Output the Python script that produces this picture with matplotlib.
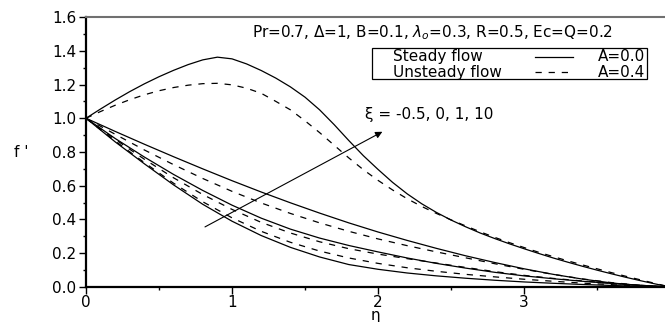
import matplotlib
matplotlib.use("Agg")
import matplotlib.pyplot as plt
from matplotlib.patches import Rectangle

plt.rcParams['font.family'] = ['DejaVu Sans']
plt.rcParams['mathtext.fontset'] = 'dejavusans'

# velocity profiles f'(eta) for xi = -0.5, 0, 1, 10
eta = [0.0, 0.2, 0.4, 0.6, 0.8, 1.0, 1.2, 1.4, 1.6, 1.8, 2.0,
       2.2, 2.4, 2.6, 2.8, 3.0, 3.2, 3.4, 3.6, 3.8, 4.0]
# finer grid for the overshooting xi=10 profiles
eta_fine = [0.0, 0.1, 0.2, 0.3, 0.4, 0.5, 0.6, 0.7, 0.8, 0.9, 1.0,
            1.1, 1.2, 1.3, 1.4, 1.5, 1.6, 1.7, 1.8, 1.9, 2.0,
            2.1, 2.2, 2.3, 2.4, 2.5, 2.6, 2.7, 2.8, 2.9, 3.0,
            3.1, 3.2, 3.3, 3.4, 3.5, 3.6, 3.7, 3.8, 3.9, 4.0]

# steady flow, A=0.0
steady_xi_m05 = [1.0, 0.86, 0.73, 0.605, 0.49, 0.39, 0.305, 0.235, 0.178, 0.133, 0.105,
                 0.083, 0.066, 0.052, 0.04, 0.03, 0.022, 0.015, 0.009, 0.004, 0.0]
steady_xi_0 = [1.0, 0.88, 0.77, 0.667, 0.572, 0.485, 0.408, 0.343, 0.29, 0.246, 0.208,
               0.172, 0.14, 0.112, 0.087, 0.066, 0.049, 0.034, 0.021, 0.01, 0.0]
steady_xi_1 = [1.0, 0.922, 0.846, 0.772, 0.70, 0.63, 0.563, 0.499, 0.438, 0.38, 0.326,
               0.276, 0.229, 0.185, 0.145, 0.108, 0.075, 0.047, 0.024, 0.008, 0.0]
steady_xi_10 = [1.0, 1.055, 1.108, 1.158, 1.204, 1.246, 1.284, 1.318, 1.346, 1.362, 1.352,
                1.322, 1.283, 1.238, 1.186, 1.125, 1.05, 0.962, 0.868, 0.778, 0.697,
                0.62, 0.552, 0.493, 0.442, 0.397, 0.357, 0.32, 0.287, 0.256, 0.227,
                0.199, 0.172, 0.147, 0.123, 0.10, 0.078, 0.057, 0.037, 0.018, 0.0]

# unsteady flow, A=0.4
unsteady_xi_m05 = [1.0, 0.865, 0.737, 0.615, 0.505, 0.41, 0.33, 0.265, 0.213, 0.172, 0.14,
                   0.114, 0.093, 0.075, 0.06, 0.046, 0.034, 0.023, 0.014, 0.006, 0.0]
unsteady_xi_0 = [1.0, 0.875, 0.757, 0.647, 0.548, 0.46, 0.383, 0.32, 0.268, 0.227, 0.195,
                 0.168, 0.142, 0.116, 0.091, 0.069, 0.051, 0.036, 0.022, 0.01, 0.0]
unsteady_xi_1 = [1.0, 0.905, 0.812, 0.725, 0.643, 0.567, 0.498, 0.436, 0.38, 0.33, 0.285,
                 0.245, 0.208, 0.173, 0.138, 0.105, 0.075, 0.048, 0.026, 0.01, 0.0]
unsteady_xi_10 = [1.0, 1.04, 1.077, 1.11, 1.139, 1.163, 1.182, 1.196, 1.205, 1.207, 1.198,
                  1.178, 1.148, 1.10, 1.05, 0.985, 0.915, 0.84, 0.765, 0.695, 0.632,
                  0.575, 0.523, 0.477, 0.436, 0.398, 0.362, 0.327, 0.294, 0.263, 0.234,
                  0.206, 0.18, 0.155, 0.131, 0.108, 0.085, 0.063, 0.042, 0.021, 0.0]

steady = [(eta, steady_xi_m05), (eta, steady_xi_0), (eta, steady_xi_1), (eta_fine, steady_xi_10)]
unsteady = [(eta, unsteady_xi_m05), (eta, unsteady_xi_0), (eta, unsteady_xi_1),
            (eta_fine, unsteady_xi_10)]

params_text = "Pr=0.7, \u0394=1, B=0.1, $\\lambda_o$=0.3, R=0.5, Ec=Q=0.2"
xi_text = "\u03be = -0.5, 0, 1, 10"

fs = 11
dash = (0, (5, 5.5))

fig = plt.figure(figsize=(6.65, 3.22), dpi=100)
# axes run a little past the right edge of the figure
ax = fig.add_axes([0.1293, 0.1087, 0.8782, 0.8385])

for x, f in steady:
    ax.plot(x, f, color='k', lw=0.9)
for x, f in unsteady:
    ax.plot(x, f, color='k', lw=0.9, linestyle=dash)

ax.set_xlim(0, 4)
ax.set_ylim(0, 1.6)
ax.set_xticks([0, 1, 2, 3, 4])
ax.set_xticks([0.5, 1.5, 2.5, 3.5], minor=True)
ax.set_yticks([0.0, 0.2, 0.4, 0.6, 0.8, 1.0, 1.2, 1.4, 1.6])
ax.set_yticks([0.1, 0.3, 0.5, 0.7, 0.9, 1.1, 1.3, 1.5], minor=True)
ax.set_yticklabels(["0.0", "0.2", "0.4", "0.6", "0.8", "1.0", "1.2", "1.4", "1.6"])
ax.tick_params(which='major', direction='out', length=5, width=1.0, labelsize=fs, pad=2)
ax.tick_params(axis='x', which='major', pad=1)
ax.tick_params(which='minor', direction='out', length=2.5, width=1.0)
ax.tick_params(top=False, right=False)

ax.spines['left'].set_linewidth(1.6)
ax.spines['bottom'].set_linewidth(1.6)
ax.spines['top'].set_linewidth(1.5)
ax.spines['top'].set_color('#707070')
ax.spines['right'].set_visible(False)

ax.set_xlabel("\u03b7", fontsize=fs, va='center')
ax.xaxis.set_label_coords(0.495, -0.107)
ax.set_ylabel("f '", fontsize=fs, rotation=0, va='center', ha='center')
ax.yaxis.set_label_coords(-0.11, 0.5)

ax.text(2.373, 1.505, params_text, fontsize=fs, ha='center', va='center')

# legend box drawn by hand: label, line sample, A value
ax.add_patch(Rectangle((0.4897, 0.7704), 0.4709, 0.1146, transform=ax.transAxes,
                       fill=False, edgecolor='k', lw=0.9))
rows = [("Steady flow", "-", "A=0.0", 0.852), ("Unsteady flow", dash, "A=0.4", 0.796)]
for label, ls, a_text, y in rows:
    ax.text(0.526, y, label, transform=ax.transAxes, fontsize=fs, va='center', ha='left')
    ax.plot([0.769, 0.834], [y, y], transform=ax.transAxes, color='k', lw=0.9,
            linestyle=ls, clip_on=False)
    ax.text(0.957, y, a_text, transform=ax.transAxes, fontsize=fs, va='center', ha='right')

# arrow showing increasing xi
ax.annotate("", xy=(2.03, 0.92), xytext=(0.815, 0.356),
            arrowprops=dict(arrowstyle='-|>', color='k', lw=0.8, mutation_scale=10,
                            shrinkA=0, shrinkB=0))
ax.text(1.91, 1.02, xi_text, fontsize=fs, ha='left', va='center')

fig.savefig("out.png", dpi=100)
